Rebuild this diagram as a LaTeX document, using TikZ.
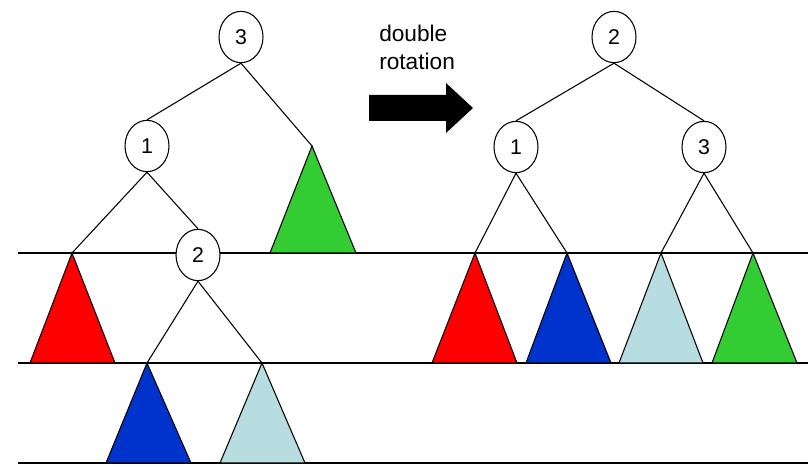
\documentclass[tikz,border=0pt]{standalone}
\usepackage{fontspec}
\setmainfont{Liberation Sans}
\usetikzlibrary{shapes.geometric}

\definecolor{treered}{RGB}{255,0,0}
\definecolor{treeblue}{RGB}{0,51,204}
\definecolor{treecyan}{RGB}{183,221,224}
\definecolor{treegreen}{RGB}{51,204,51}

\tikzset{
  keynode/.style={ellipse, draw, fill=white, line width=0.8pt, inner sep=0pt,
    minimum width=33pt, minimum height=38.5pt, font=\fontsize{16}{18}\selectfont},
  subtree/.style={draw, line width=0.8pt, line join=miter},
  link/.style={line width=0.8pt},
  level/.style={line width=1pt}
}

\begin{document}
\begin{tikzpicture}[x=0.75pt,y=0.75pt,yscale=-1,xscale=1]
\useasboundingbox (0,0) rectangle (811,467);

%Level lines
\draw [level] (18,253) -- (808,253) ;
\draw [level] (18,363) -- (808,363) ;
\draw [level] (18,463) -- (808,463) ;

%Apex points, left tree
\coordinate (gL) at (312,146) ;
\coordinate (rL) at (72,253) ;
\coordinate (bL) at (147,363) ;
\coordinate (cL) at (262,363) ;
%Apex points, right tree
\coordinate (rR) at (475,253) ;
\coordinate (bR) at (567,253) ;
\coordinate (cR) at (661,253) ;
\coordinate (gR) at (753,253) ;

%Subtrees, left
\draw [subtree, fill=treegreen] (gL) -- (356,253) -- (270,253) -- cycle ;
\draw [subtree, fill=treered] (rL) -- (115,363) -- (30,363) -- cycle ;
\draw [subtree, fill=treeblue] (bL) -- (191,463) -- (106,463) -- cycle ;
\draw [subtree, fill=treecyan] (cL) -- (305,463) -- (220,463) -- cycle ;
%Subtrees, right
\draw [subtree, fill=treered] (rR) -- (517,363) -- (432,363) -- cycle ;
\draw [subtree, fill=treeblue] (bR) -- (611,363) -- (526,363) -- cycle ;
\draw [subtree, fill=treecyan] (cR) -- (703,363) -- (619,363) -- cycle ;
\draw [subtree, fill=treegreen] (gR) -- (797,363) -- (712,363) -- cycle ;

% Key nodes, left tree
\node [keynode] (k3) at (241,37) {3};
\node [keynode] (k1) at (147,146) {1};
\node [keynode] (k2) at (198,255) {2};
% Key nodes, right tree
\node [keynode] (r2) at (614,37) {2};
\node [keynode] (r1) at (516,147) {1};
\node [keynode] (r3) at (704,147) {3};

%Links, left tree
\draw [link] (k3.south) -- (k1.north) ;
\draw [link] (k3.south) -- (gL) ;
\draw [link] (k1.south) -- (rL) ;
\draw [link] (k1.south) -- (k2.north) ;
\draw [link] (k2.south) -- (bL) ;
\draw [link] (k2.south) -- (cL) ;
%Links, right tree
\draw [link] (r2.south) -- (r1.north) ;
\draw [link] (r2.south) -- (r3.north) ;
\draw [link] (r1.south) -- (rR) ;
\draw [link] (r1.south) -- (bR) ;
\draw [link] (r3.south) -- (cR) ;
\draw [link] (r3.south) -- (gR) ;

%Shape: block arrow
\fill [black] (369,95) -- (446,95) -- (446,83) -- (473,108) -- (446,133) -- (446,121) -- (369,121) -- cycle ;

% Text Node
\node [anchor=north west, inner sep=0pt, align=left, font=\fontsize{17}{21}\selectfont] (lbl) at (379,25) {double\\rotation};

\end{tikzpicture}
\end{document}
